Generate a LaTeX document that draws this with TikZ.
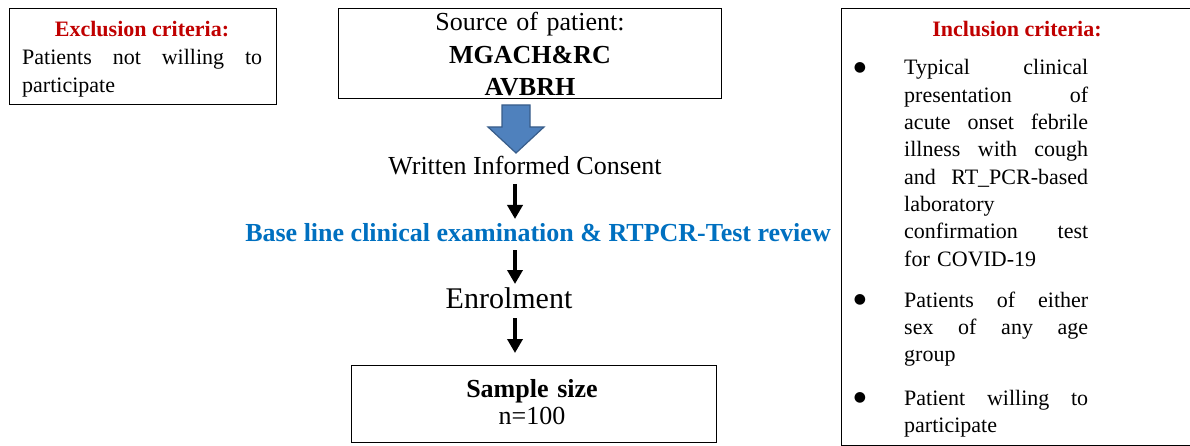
\documentclass[tikz,border=0pt]{standalone}
\usepackage{fontspec}
\setmainfont{Liberation Serif}
\newfontfamily\bulfont{DejaVu Sans}
\usetikzlibrary{arrows.meta}
\definecolor{critred}{HTML}{C00000}
\definecolor{stepblue}{HTML}{0070C0}
\definecolor{barrowfill}{HTML}{4F81BD}
\definecolor{barrowline}{HTML}{385D8A}
\newcommand{\jl}[2]{\leavevmode\hbox to #1{#2}}
\begin{document}
\begin{tikzpicture}[x=1pt,y=-1pt,
  boxframe/.style={draw=black, line width=0.9pt, inner sep=0pt, anchor=north west},
  body/.style={font=\fontsize{22}{27.3}\selectfont, inner sep=0pt},
  big/.style={font=\fontsize{26}{32.5}\selectfont, inner sep=0pt},
  crit/.style={font=\fontsize{22}{27}\selectfont\bfseries, text=critred, inner sep=0pt},
  bul/.style={font=\fontsize{14}{14}\bulfont, inner sep=0pt, anchor=center},
  blk/.style={line width=4pt, -{Triangle[width=15pt,length=14pt]}},
]
\useasboundingbox (0,0) rectangle (1190,446);

% Exclusion box
\node[boxframe, minimum width=267pt, minimum height=96pt] (excl) at (9,8) {};
\node[crit, anchor=base] (excltitle) at (142,37) {Exclusion criteria:};
\node[body, anchor=base west, text width=240pt] (excltext) at (22,65)
  {\jl{240pt}{Patients\hfill not\hfill willing\hfill to}\\participate};

% Source box
\node[boxframe, minimum width=383pt, minimum height=90pt] (src) at (338,8) {};
\node[big, anchor=base, text width=380pt, align=center] (srctext) at (530,31)
  {Source of patient:\\\textbf{MGACH\&RC}\\\textbf{AVBRH}};

% Blue block arrow
\coordinate (bt) at (516,105);
\draw[fill=barrowfill, draw=barrowline, line width=1.2pt, line join=miter]
  ([xshift=-14pt]bt) -- ++(28,0) -- ++(0,22) -- ++(14,0) -- ++(-28,26)
  -- ++(-28,-26) -- ++(14,0) -- cycle;

% Flow texts
\node[big, anchor=base] (consent) at (525,175) {Written Informed Consent};
\node[big, anchor=base, font=\fontsize{26}{32}\selectfont\bfseries, text=stepblue] (review) at (538,242)
  {Base line clinical examination \& RTPCR-Test review};
\node[font=\fontsize{30}{36}\selectfont, inner sep=0pt, anchor=base] (enrol) at (509,308) {Enrolment};

% Sample box
\node[boxframe, minimum width=365pt, minimum height=77pt] (sample) at (351,365) {};
\node[font=\fontsize{26}{27}\selectfont, inner sep=0pt, anchor=base, text width=360pt, align=center] (sampletext) at (532,397)
  {\textbf{Sample size}\\n=100};

% Arrows
\coordinate (ax) at (515,0);
\draw[blk, shorten <=9pt, shorten >=23pt] (consent.base -| ax) -- (review.base -| ax);
\draw[blk, shorten <=8pt, shorten >=24pt] (review.base -| ax) -- (enrol.base -| ax);
\draw[blk, shorten <=10pt, shorten >=12pt] (enrol.base -| ax) -- (sample.north -| ax);

% Inclusion box
\node[boxframe, minimum width=355pt, minimum height=437pt] (incl) at (841,8) {};
\node[crit, anchor=base] (incltitle) at (1017,37) {Inclusion criteria:};

\node[bul] (b1) at (860,68) {●};
\node[body, anchor=base west, text width=184pt] (item1) at (904,75)
  {\jl{184pt}{Typical\hfill clinical}\\
   \jl{184pt}{presentation\hfill of}\\
   \jl{184pt}{acute\hfill onset\hfill febrile}\\
   \jl{184pt}{illness\hfill with\hfill cough}\\
   \jl{184pt}{and\hfill RT\_PCR-based}\\
   laboratory\\
   \jl{184pt}{confirmation\hfill test}\\
   for COVID-19};

\node[bul] (b2) at (860,300) {●};
\node[body, anchor=base west, text width=184pt] (item2) at (904,307)
  {\jl{184pt}{Patients\hfill of\hfill either}\\
   \jl{184pt}{sex\hfill of\hfill any\hfill age}\\
   group};

\node[bul] (b3) at (860,398) {●};
\node[body, anchor=base west, text width=184pt] (item3) at (904,405)
  {\jl{184pt}{Patient\hfill willing\hfill to}\\
   participate};
\end{tikzpicture}
\end{document}
